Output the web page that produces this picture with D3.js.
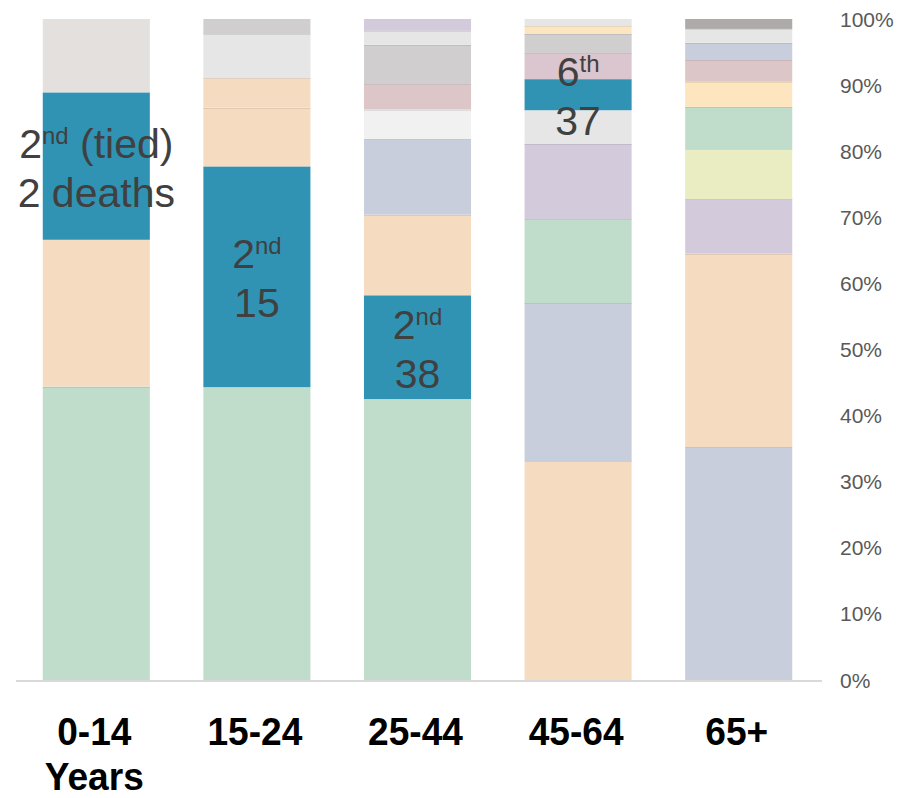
<!DOCTYPE html>
<html>
<head>
<meta charset="utf-8">
<script src="https://cdn.jsdelivr.net/npm/d3@7"></script>
<style>
  html, body { margin: 0; padding: 0; background: #fff; }
  svg { display: block; }
</style>
</head>
<body>
<div id="chart"></div>
<script>
// age groups (x axis)
const ageGroups = ["0-14", "15-24", "25-44", "45-64", "65+"];
const ageSubLabels = ["Years", "", "", "", ""];

// stacked shares (% of deaths), bottom to top, per age group
const causes014 = ["mint", "peach", "teal", "stone"];
const shares014 = [44.4, 22.2, 22.3, 11.1];

const causes1524 = ["mint", "teal", "peach", "peachB", "silver", "ash"];
const shares1524 = [44.3, 33.4, 8.9, 4.4, 6.7, 2.3];

const causes2544 = ["mint", "teal", "peach", "slate", "snow", "rose", "ash", "silver", "lilac"];
const shares2544 = [42.5, 15.7, 12.2, 11.4, 4.5, 3.8, 6.0, 2.1, 1.8];

const causes4564 = ["peach", "slate", "mint", "lilac", "silver", "teal", "blush", "ash", "cream", "silver"];
const shares4564 = [33.1, 23.9, 12.7, 11.4, 5.1, 4.7, 3.9, 3.0, 1.1, 1.1];

const causes65 = ["slate", "peach", "lilac", "lime", "mint", "cream", "rose", "slate", "silver", "taupe"];
const shares65 = [35.2, 29.3, 8.2, 7.6, 6.4, 3.8, 3.3, 2.6, 2.1, 1.5];

// annotation for the highlighted cause in each group
const rankNumbers = ["2", "2", "2", "6", ""];
const rankSuffixes = ["nd", "nd", "nd", "th", ""];
const rankExtras = [" (tied)", "", "", "", ""];
const deathCounts = ["2 deaths", "15", "38", "37", ""];

const yTicks = [0, 10, 20, 30, 40, 50, 60, 70, 80, 90, 100];

const colors = {
  mint: "#c0ddcb",
  peach: "#f5dbc0",
  peachB: "#f5dbc0",
  teal: "#3093b4",
  stone: "#e3e0dd",
  silver: "#e6e6e6",
  ash: "#d0cecf",
  slate: "#c8cedb",
  snow: "#f1f1f1",
  rose: "#dcc6c8",
  blush: "#dbc5cf",
  lilac: "#d3cbdc",
  cream: "#fde6bf",
  lime: "#eaedc2",
  taupe: "#aeaaaa"
};

const allCauses = [causes014, causes1524, causes2544, causes4564, causes65];
const allShares = [shares014, shares1524, shares2544, shares4564, shares65];

const width = 915, height = 798;

const svg = d3.select("#chart")
  .append("svg")
  .attr("width", width)
  .attr("height", height);

const x = d3.scaleBand()
  .domain(ageGroups)
  .range([16, 819])
  .paddingInner(1 / 3)
  .paddingOuter(1 / 6);

const y = d3.scaleLinear()
  .domain([0, 100])
  .range([680, 19]);

// build segment table
const segments = [];
ageGroups.forEach((g, i) => {
  const vals = allShares[i];
  const tops = d3.cumsum(vals);
  vals.forEach((v, j) => {
    segments.push({
      group: g,
      cause: allCauses[i][j],
      below: j > 0 ? allCauses[i][j - 1] : null,
      y0: tops[j] - v,
      y1: tops[j]
    });
  });
});

const bars = svg.append("g");

bars.selectAll("rect")
  .data(segments)
  .enter()
  .append("rect")
  .attr("x", d => x(d.group))
  .attr("y", d => y(d.y1))
  .attr("width", x.bandwidth())
  .attr("height", d => y(d.y0) - y(d.y1))
  .attr("fill", d => colors[d.cause]);

// faint separators between light segments
bars.selectAll("line")
  .data(segments.filter(d => d.below && d.cause !== "teal" && d.below !== "teal"))
  .enter()
  .append("line")
  .attr("x1", d => x(d.group))
  .attr("x2", d => x(d.group) + x.bandwidth())
  .attr("y1", d => Math.round(y(d.y0)) + 0.5)
  .attr("y2", d => Math.round(y(d.y0)) + 0.5)
  .attr("stroke", d => d3.color(colors[d.below]).darker(0.5))
  .attr("stroke-opacity", 0.5)
  .attr("stroke-width", 1);

// baseline
svg.append("line")
  .attr("x1", x.range()[0])
  .attr("x2", x.range()[1] + 3)
  .attr("y1", y(0) + 1)
  .attr("y2", y(0) + 1)
  .attr("stroke", "#d9d9d9")
  .attr("stroke-width", 2);

// right-hand percent labels
svg.append("g")
  .selectAll("text")
  .data(yTicks)
  .enter()
  .append("text")
  .attr("x", 840)
  .attr("y", d => y(d))
  .attr("dy", "0.36em")
  .attr("font-family", "'Liberation Sans', Arial, sans-serif")
  .attr("font-size", 21)
  .attr("fill", "#595959")
  .text(d => d + "%");

// x labels (two separate lines so they don't collide)
const xLabels = svg.append("g")
  .attr("font-family", "'Liberation Sans', Arial, sans-serif")
  .attr("font-weight", "bold")
  .attr("font-size", 36)
  .attr("fill", "#000")
  .attr("text-anchor", "middle");

ageGroups.forEach((g, i) => {
  const cx = x(g) + x.bandwidth() / 2 - 2;
  xLabels.append("text")
    .attr("transform", `translate(${cx},745) scale(1.03,1.1)`)
    .text(g);
  if (ageSubLabels[i]) {
    xLabels.append("text")
      .attr("transform", `translate(${cx},790) scale(1.03,1.1)`)
      .text(ageSubLabels[i]);
  }
});

// rank annotations on the highlighted (teal) segment
const notes = svg.append("g")
  .attr("font-family", "'Liberation Sans', Arial, sans-serif")
  .attr("fill", "#404040");

ageGroups.forEach((g, i) => {
  if (!rankNumbers[i]) return;
  const seg = segments.find(d => d.group === g && d.cause === "teal");
  const mid = y((seg.y0 + seg.y1) / 2);
  const cx = x(g) + x.bandwidth() / 2;

  const line1 = notes.append("text")
    .attr("x", cx)
    .attr("y", mid - 8.5)
    .attr("text-anchor", "middle")
    .attr("font-size", 41);
  line1.append("tspan").text(rankNumbers[i]);
  line1.append("tspan")
    .attr("font-size", 24)
    .attr("dy", -14)
    .text(rankSuffixes[i]);
  if (rankExtras[i]) {
    line1.append("tspan")
      .attr("dy", 14)
      .text(rankExtras[i]);
  }

  notes.append("text")
    .attr("x", cx)
    .attr("y", mid + 40.5)
    .attr("text-anchor", "middle")
    .attr("font-size", 41)
    .text(deathCounts[i]);
});
</script>
</body>
</html>
